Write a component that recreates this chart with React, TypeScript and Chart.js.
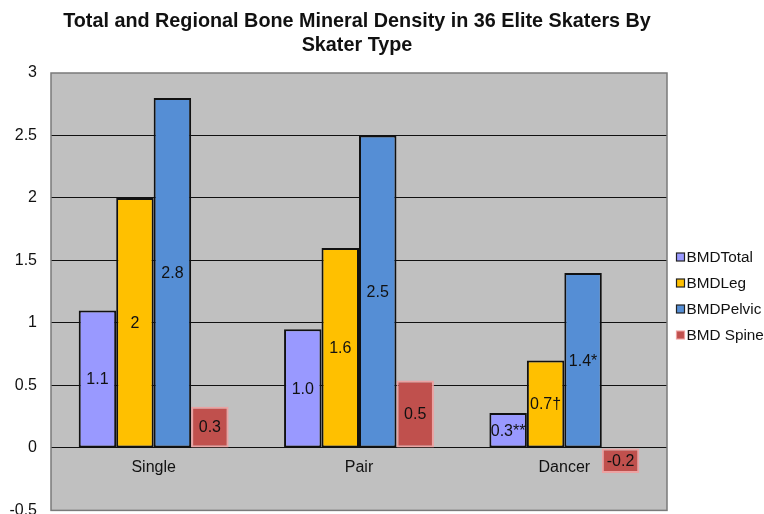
import React, { useEffect, useRef } from "react";
import { Chart, registerables } from "chart.js";

Chart.register(...registerables);

const categories = ["Single", "Pair", "Dancer"];
const seriesNames = ["BMDTotal", "BMDLeg", "BMDPelvic", "BMD Spine"];
const bmdTotal = [1.1, 0.95, 0.28];
const bmdLeg = [2.0, 1.6, 0.7];
const bmdPelvic = [2.8, 2.5, 1.4];
const bmdSpine = [0.33, 0.54, -0.2];
const totalLabels = ["1.1", "1.0", "0.3**"];
const legLabels = ["2", "1.6", "0.7\u2020"];
const pelvicLabels = ["2.8", "2.5", "1.4*"];
const spineLabels = ["0.3", "0.5", "-0.2"];
const titleLines = [
  "Total and Regional Bone Mineral Density in 36 Elite Skaters By",
  "Skater Type",
];

const FONT = "'Liberation Sans', Arial, Helvetica, sans-serif";

const fills = ["#9999FF", "#FFC000", "#558ED5", "#C0504D"];
const borders = ["#111111", "#111111", "#111111", "rgba(240,160,160,0.9)"];

const CANVAS_H = 534;

export default function App() {
  const ref = useRef<HTMLCanvasElement>(null);

  useEffect(() => {
    const canvas = ref.current;
    if (!canvas) return;
    const allLabels = [totalLabels, legLabels, pelvicLabels, spineLabels];
    const series = [bmdTotal, bmdLeg, bmdPelvic, bmdSpine];

    const framePlugin = {
      id: "frame",
      beforeDraw(chart: any) {
        const { ctx, chartArea: a } = chart;
        ctx.save();
        ctx.fillStyle = "#ffffff";
        ctx.fillRect(0, 0, chart.width, chart.height);
        ctx.fillStyle = "#C0C0C0";
        ctx.fillRect(a.left, a.top, a.right - a.left, a.bottom - a.top);
        ctx.restore();
      },
      beforeDatasetsDraw(chart: any) {
        const { ctx, chartArea: a } = chart;
        ctx.save();
        ctx.strokeStyle = "#7a7a7a";
        ctx.lineWidth = 1.5;
        ctx.strokeRect(a.left, a.top, a.right - a.left, a.bottom - a.top);
        ctx.restore();
      },
      afterDatasetsDraw(chart: any) {
        const { ctx, chartArea: a } = chart;
        const xs = chart.scales.x;
        const ys = chart.scales.y;
        ctx.save();
        // data labels
        ctx.fillStyle = "#111";
        ctx.font = `16px ${FONT}`;
        ctx.textAlign = "center";
        ctx.textBaseline = "middle";
        chart.data.datasets.forEach((ds: any, di: number) => {
          const meta = chart.getDatasetMeta(di);
          meta.data.forEach((bar: any, i: number) => {
            const cy = (bar.y + bar.base) / 2;
            ctx.fillText(allLabels[di][i], bar.x, cy + 1);
          });
        });
        // category labels under zero line
        const y0 = ys.getPixelForValue(0);
        categories.forEach((c, i) => {
          ctx.fillText(c, xs.getPixelForValue(i), y0 + 20);
        });
        // title
        ctx.font = `bold 19.8px ${FONT}`;
        const cx = 357;
        ctx.fillText(titleLines[0], cx, 22);
        ctx.fillText(titleLines[1], cx, 46);
        // legend
        ctx.font = `15.3px ${FONT}`;
        ctx.textAlign = "left";
        const spacing = 26;
        const startY = 257;
        seriesNames.forEach((n, i) => {
          const y = startY + i * spacing;
          const bx = a.right + 9.5;
          ctx.fillStyle = fills[i];
          ctx.fillRect(bx, y - 4, 8, 8);
          ctx.strokeStyle = i === 3 ? "rgba(240,160,160,0.9)" : "#222";
          ctx.lineWidth = 1.2;
          ctx.strokeRect(bx, y - 4, 8, 8);
          ctx.fillStyle = "#111";
          ctx.fillText(n, bx + 10, y + 1);
        });
        ctx.restore();
      },
    };

    const chart = new Chart(canvas, {
      type: "bar",
      data: {
        labels: categories,
        datasets: series.map((d, i) => ({
          label: seriesNames[i],
          data: d,
          backgroundColor: fills[i],
          borderColor: borders[i],
          borderWidth: 2,
          borderSkipped: false,
          barPercentage: 1,
          categoryPercentage: 0.73,
        })),
      },
      options: {
        animation: false,
        responsive: false,
        maintainAspectRatio: false,
        layout: { padding: { top: 73, right: 97, bottom: 3, left: 0 } },
        plugins: {
          legend: { display: false },
          title: { display: false },
          tooltip: { enabled: false },
        },
        scales: {
          x: { display: false },
          y: {
            min: -0.5,
            max: 3,
            afterFit(scale: any) {
              scale.width = 51;
            },
            ticks: {
              stepSize: 0.5,
              color: "#111",
              padding: 14,
              font: { family: FONT, size: 16 },
              callback: (v: any) => String(Math.round(Number(v) * 10) / 10),
            },
            grid: {
              drawTicks: false,
              color: (c: any) =>
                c.tick && (c.tick.value === 3 || c.tick.value === -0.5)
                  ? "rgba(0,0,0,0)"
                  : "#111",
              lineWidth: 1,
            },
            border: { display: false },
          },
        },
      },
      plugins: [framePlugin],
    });
    return () => chart.destroy();
  }, []);

  return (
    <div
      style={{
        position: "fixed",
        left: 0,
        top: 0,
        width: 764,
        height: 514,
        overflow: "hidden",
        background: "#fff",
      }}
    >
      <canvas
        ref={ref}
        width={764}
        height={CANVAS_H}
        style={{ width: 764, height: CANVAS_H, display: "block" }}
      />
    </div>
  );
}
